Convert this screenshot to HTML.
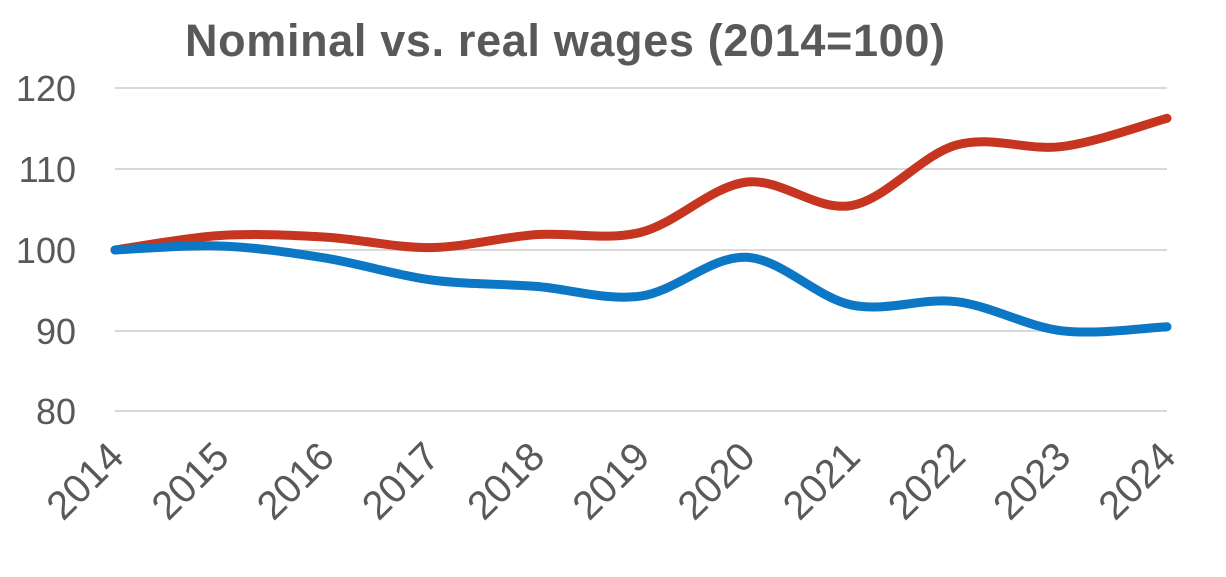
<!DOCTYPE html>
<html><head><meta charset="utf-8"><style>
body{margin:0;background:#fff;}
svg{display:block;font-family:"Liberation Sans",sans-serif;}
</style></head><body>
<svg id="s" width="1226" height="577" viewBox="0 0 1226 577">
<text x="565" y="56" text-anchor="middle" font-size="45" font-weight="bold" fill="#595959" textLength="760">Nominal vs. real  wages (2014=100)</text>
<g stroke="#d9d9d9" stroke-width="2">
<line x1="115" x2="1167" y1="88" y2="88"/><line x1="115" x2="1167" y1="169" y2="169"/>
<line x1="115" x2="1167" y1="250" y2="250"/><line x1="115" x2="1167" y1="331" y2="331"/>
<line x1="115" x2="1167" y1="411" y2="411"/></g>
<g font-size="36" fill="#595959" text-anchor="end">
<text x="76" y="101">120</text><text x="76" y="182">110</text><text x="76" y="263">100</text>
<text x="76" y="344">90</text><text x="76" y="424">80</text></g>
<g id="xl" font-size="40" fill="#595959" text-anchor="end"></g>
<path id="red" fill="none" stroke="#c5351f" stroke-width="9" stroke-linecap="round"/>
<path id="blue" fill="none" stroke="#0c77c4" stroke-width="9" stroke-linecap="round"/>
</svg>
<script>
var x0=115,dx=105.2;
function y(v){return 250-(v-100)*8.08;}
function path(vals){
 var p=vals.map(function(v,i){return [x0+i*dx,y(v)];});
 var d="M"+p[0][0]+","+p[0][1];
 for(var i=0;i<p.length-1;i++){
  var a=p[Math.max(i-1,0)],b=p[i],c=p[i+1],e=p[Math.min(i+2,p.length-1)];
  var t=6;
  d+=" C"+(b[0]+(c[0]-a[0])/t)+","+(b[1]+(c[1]-a[1])/t)+" "+(c[0]-(e[0]-b[0])/t)+","+(c[1]-(e[1]-b[1])/t)+" "+c[0]+","+c[1];
 }
 return d;
}
document.getElementById("red").setAttribute("d",path([100,101.8,101.6,100.3,101.9,102.2,108.4,105.5,113,112.8,116.3]));
document.getElementById("blue").setAttribute("d",path([100,100.5,99,96.3,95.5,94.3,99.1,93.2,93.6,90,90.5]));
var g=document.getElementById("xl"),h="";
for(var i=0;i<11;i++){var xx=x0+i*dx+11,yy=459;
 h+='<text transform="translate('+xx+','+yy+') rotate(-45)">'+(2014+i)+'</text>';}
g.innerHTML=h;
</script>
</body></html>
